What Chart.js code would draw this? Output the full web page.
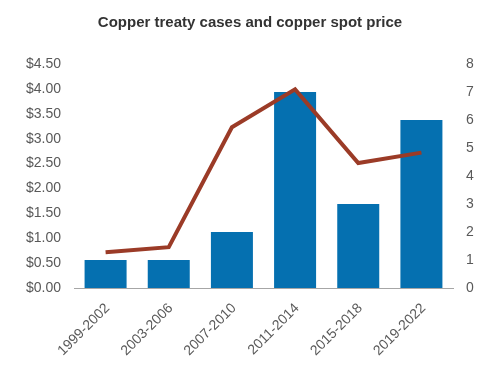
<!DOCTYPE html>
<html>
<head>
<meta charset="utf-8">
<script src="https://cdn.jsdelivr.net/npm/chart.js@4"></script>
<style>
  html, body { margin: 0; padding: 0; background: #fff; }
  #wrap { width: 500px; height: 382px; }
</style>
</head>
<body>
<div id="wrap"><canvas id="chart" width="500" height="382"></canvas></div>
<script>
// Data
const periods = ['1999-2002', '2003-2006', '2007-2010', '2011-2014', '2015-2018', '2019-2022'];
const treatyCases = [1, 1, 2, 7, 3, 6];
const spotPrice = [0.72, 0.82, 3.23, 3.99, 2.51, 2.72];
const priceTicks = [0, 0.5, 1, 1.5, 2, 2.5, 3, 3.5, 4, 4.5];
const caseTicks = [0, 1, 2, 3, 4, 5, 6, 7, 8];

const labelColor = '#595959';
const tickFont = { family: 'Liberation Sans, Arial, sans-serif', size: 14 };

const ctx = document.getElementById('chart').getContext('2d');
new Chart(ctx, {
    type: 'bar',
    data: {
        labels: periods,
        datasets: [
            {
                type: 'line',
                label: 'Copper spot price',
                data: spotPrice,
                yAxisID: 'yPrice',
                borderColor: '#9B3B27',
                borderWidth: 4,
                pointRadius: 0,
                tension: 0,
                order: 0
            },
            {
                type: 'bar',
                label: 'Treaty cases',
                data: treatyCases,
                yAxisID: 'yCases',
                backgroundColor: '#0570B0',
                categoryPercentage: 1,
                barPercentage: 0.665,
                order: 1
            }
        ]
    },
    options: {
        responsive: false,
        animation: false,
        layout: { padding: 0 },
        plugins: {
            legend: { display: false },
            tooltip: { enabled: false },
            title: {
                display: true,
                text: 'Copper treaty cases and copper spot price',
                color: '#333333',
                font: { family: 'Liberation Sans, Arial, sans-serif', size: 15, weight: 'bold' },
                padding: { top: 14, bottom: 32 }
            }
        },
        scales: {
            x: {
                grid: { display: false, drawTicks: false },
                border: { display: true, color: '#A6A6A6', width: 1 },
                ticks: {
                    color: labelColor,
                    font: tickFont,
                    minRotation: 45,
                    maxRotation: 45,
                    padding: 12,
                    labelOffset: 2
                },
                afterFit: function(scale) { scale.height = 94; }
            },
            yPrice: {
                position: 'left',
                min: 0,
                max: 4.5,
                grid: { display: false, drawTicks: false },
                border: { display: false },
                afterBuildTicks: function(axis) {
                    axis.ticks = priceTicks.map(v => ({ value: v }));
                },
                ticks: {
                    color: labelColor,
                    font: tickFont,
                    padding: 13,
                    callback: v => '$' + Number(v).toFixed(2)
                },
                afterFit: function(scale) { scale.width = 74; }
            },
            yCases: {
                position: 'right',
                min: 0,
                max: 8,
                grid: { display: false, drawTicks: false },
                border: { display: false },
                afterBuildTicks: function(axis) {
                    axis.ticks = caseTicks.map(v => ({ value: v }));
                },
                ticks: {
                    color: labelColor,
                    font: tickFont,
                    padding: 13
                },
                afterFit: function(scale) { scale.width = 47; }
            }
        }
    }
});
</script>
</body>
</html>
